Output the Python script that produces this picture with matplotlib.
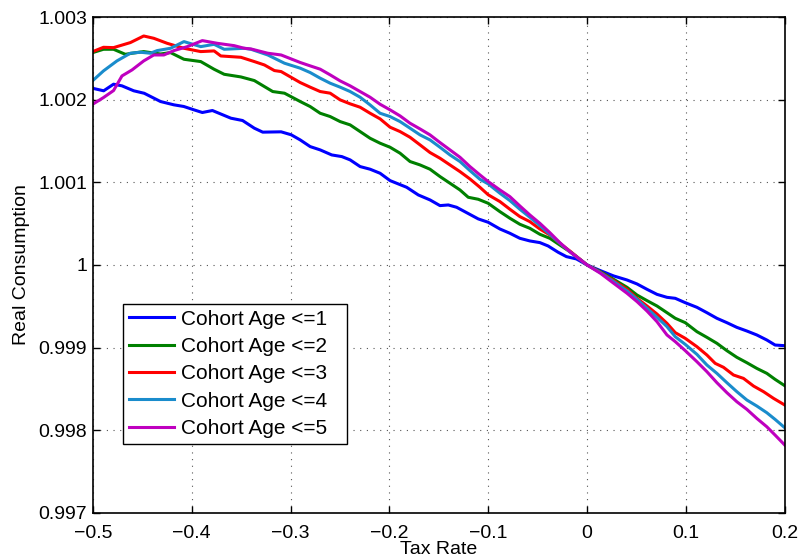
import matplotlib
matplotlib.use("Agg")
import matplotlib.pyplot as plt
from matplotlib.ticker import FixedLocator

plt.rcParams['font.family'] = ['Liberation Sans', 'DejaVu Sans']

labels = ["Cohort Age <=1", "Cohort Age <=2", "Cohort Age <=3", "Cohort Age <=4", "Cohort Age <=5"]
colors = ["#0000ff", "#008000", "#ff0000", "#1a8ccc", "#bf00bf"]

x1 = [-0.5, -0.489, -0.479, -0.4705, -0.4586, -0.448, -0.4315, -0.418, -0.408, -0.3976, -0.3892, -0.379,
      -0.3603, -0.3485, -0.3366, -0.3281, -0.3095, -0.2993,
      -0.2902, -0.2801, -0.27, -0.2583, -0.2481, -0.2397, -0.2296, -0.2195, -0.2094, -0.1993, -0.1825,
      -0.1707, -0.1589, -0.1488, -0.1404, -0.132, -0.1219, -0.1101, -0.1, -0.0882, -0.0781, -0.068,
      -0.0579, -0.0478, -0.0394, -0.0293, -0.0209, -0.0108, 0.0,
      0.0135, 0.0269, 0.0404, 0.0505, 0.0606, 0.0707, 0.0808, 0.0892, 0.0993, 0.1111, 0.1212, 0.1313,
      0.1414, 0.1515, 0.1616, 0.1717, 0.1818, 0.1902, 0.2]
y1 = [1.00214, 1.00211, 1.00219, 1.00217, 1.00211, 1.00208, 1.00198, 1.00194, 1.00192, 1.001879, 1.001847, 1.001871,
      1.001778, 1.00175, 1.001657, 1.001609, 1.001613, 1.001577,
      1.001515, 1.001434, 1.001394, 1.001333, 1.001313, 1.001273, 1.001192, 1.00116, 1.001111, 1.001022, 1.000941,
      1.000848, 1.000788, 1.000719, 1.000727, 1.000699, 1.000634, 1.000558, 1.000517, 1.000436, 1.000384, 1.000323,
      1.000291, 1.000271, 1.00023, 1.000154, 1.000101, 1.000073, 1.0,
      0.999931, 0.999867, 0.999818, 0.99977, 0.999705, 0.999644, 0.999608, 0.999596, 0.999543, 0.999487, 0.999422, 0.999354,
      0.999301, 0.999244, 0.9992, 0.999152, 0.999091, 0.99903, 0.999022]

x2 = [-0.5, -0.4892, -0.479, -0.4671, -0.4603, -0.4485, -0.4315, -0.4214, -0.4078, -0.3908, -0.3773, -0.3671,
      -0.3502, -0.3366, -0.318, -0.3061,
      -0.2902, -0.2801, -0.27, -0.2599, -0.2498, -0.2397, -0.2296, -0.2195, -0.2094, -0.1993, -0.1892, -0.1791,
      -0.169, -0.1589, -0.1488, -0.1387, -0.1286, -0.1202, -0.1101, -0.1, -0.0882, -0.0781, -0.068, -0.0579,
      -0.0478, -0.0377, -0.0276, -0.0175, 0.0,
      0.0135, 0.0269, 0.0404, 0.0505, 0.0606, 0.0707, 0.0808, 0.0892, 0.0993, 0.1111, 0.1212, 0.1313,
      0.1414, 0.1515, 0.1616, 0.1717, 0.1818, 0.1902, 0.2]
y2 = [1.002573, 1.002613, 1.002613, 1.002552, 1.002565, 1.002585, 1.002556, 1.002573, 1.002492, 1.002464, 1.002371, 1.00231,
      1.002278, 1.002234, 1.002101, 1.002081,
      1.00198, 1.001919, 1.001838, 1.001798, 1.001737, 1.001697, 1.001616, 1.001535, 1.001475, 1.001426, 1.001354, 1.001253,
      1.001212, 1.00116, 1.001071, 1.00099, 1.000909, 1.00082, 1.000796, 1.000747, 1.000646, 1.000566, 1.000493, 1.000444,
      1.000372, 1.000323, 1.000242, 1.000162, 1.0,
      0.999919, 0.999826, 0.999729, 0.999636, 0.999568, 0.999503, 0.999422, 0.999354, 0.999301, 0.999192, 0.999123, 0.999051,
      0.998962, 0.998881, 0.998816, 0.998747, 0.998687, 0.998614, 0.998537]

x3 = [-0.5, -0.4892, -0.479, -0.462, -0.4485, -0.4383, -0.4247, -0.4078, -0.3908, -0.3773, -0.3705, -0.3502,
      -0.3366, -0.3264, -0.3163, -0.3095,
      -0.2902, -0.2801, -0.27, -0.2599, -0.2498, -0.2397, -0.2296, -0.2195, -0.2094, -0.1993, -0.1892, -0.1791,
      -0.169, -0.1589, -0.1488, -0.1387, -0.1286, -0.1185, -0.1084, -0.1, -0.0882, -0.0781, -0.068, -0.0579,
      -0.0478, -0.0377, -0.0276, -0.0175, 0.0,
      0.0135, 0.0269, 0.0404, 0.0505, 0.0606, 0.0707, 0.0808, 0.0892, 0.0993, 0.1111, 0.1212, 0.1296,
      0.138, 0.1481, 0.1582, 0.1684, 0.1785, 0.1886, 0.2]
y3 = [1.002585, 1.002637, 1.002633, 1.002694, 1.002774, 1.002746, 1.002685, 1.002625, 1.002585, 1.002593, 1.002532, 1.002516,
      1.002464, 1.002423, 1.002355, 1.002343,
      1.00221, 1.002154, 1.002101, 1.002081, 1.002, 1.001952, 1.001911, 1.001838, 1.00177, 1.001669, 1.001616, 1.001547,
      1.001455, 1.001362, 1.001293, 1.001212, 1.001131, 1.001042, 1.000941, 1.00085, 1.000768, 1.000675, 1.000586, 1.000525,
      1.000436, 1.000364, 1.000263, 1.00017, 1.0,
      0.999911, 0.99981, 0.999705, 0.999596, 0.999503, 0.999406, 0.999293, 0.99918, 0.999111, 0.99901, 0.998909, 0.998808,
      0.99876, 0.998667, 0.998626, 0.998533, 0.998465, 0.998384, 0.998303]

x4 = [-0.5, -0.4892, -0.4756, -0.462, -0.4519, -0.4417, -0.4349, -0.4214, -0.4078, -0.3908, -0.3773, -0.3671,
      -0.3468, -0.34, -0.323, -0.3061,
      -0.2902, -0.2801, -0.27, -0.2599, -0.2498, -0.2397, -0.2296, -0.2195, -0.2094, -0.1993, -0.1892, -0.1791,
      -0.169, -0.1589, -0.1488, -0.1387, -0.1286, -0.1185, -0.1084, -0.1, -0.0882, -0.0781, -0.068, -0.0579,
      -0.0478, -0.0377, -0.0276, -0.0175, 0.0,
      0.0135, 0.0269, 0.0404, 0.0505, 0.0606, 0.0707, 0.0808, 0.0892, 0.0993, 0.1111, 0.1212, 0.1313,
      0.1414, 0.1515, 0.1616, 0.1717, 0.1818, 0.1902, 0.2]
y4 = [1.002234, 1.002351, 1.002472, 1.002565, 1.002577, 1.002565, 1.002597, 1.002625, 1.002706, 1.002645, 1.002673, 1.002613,
      1.002625, 1.002613, 1.002544, 1.002444,
      1.002384, 1.002331, 1.002263, 1.002202, 1.002154, 1.002101, 1.002032, 1.001939, 1.001838, 1.001798, 1.001737, 1.001657,
      1.001576, 1.001515, 1.001426, 1.001333, 1.001253, 1.001143, 1.001038, 1.000982, 1.000869, 1.00078, 1.000675, 1.000578,
      1.000477, 1.000372, 1.000263, 1.000162, 1.0,
      0.999907, 0.999798, 0.999685, 0.999584, 0.999475, 0.999366, 0.999253, 0.999131, 0.999038, 0.998917, 0.998788, 0.998687,
      0.998574, 0.998465, 0.998364, 0.998291, 0.99821, 0.998129, 0.998028]

x5 = [-0.5, -0.4892, -0.479, -0.4705, -0.4603, -0.4485, -0.4383, -0.4281, -0.418, -0.4044, -0.3892, -0.3739,
      -0.357, -0.3468, -0.34, -0.323, -0.3095,
      -0.2902, -0.2801, -0.27, -0.2599, -0.2498, -0.2397, -0.2296, -0.2195, -0.2094, -0.1993, -0.1892, -0.1791,
      -0.169, -0.1589, -0.1488, -0.1387, -0.1286, -0.1185, -0.1084, -0.1, -0.0882, -0.0781, -0.068, -0.0579,
      -0.0478, -0.0377, -0.0276, -0.0175, 0.0,
      0.0135, 0.0269, 0.0404, 0.0505, 0.0606, 0.0707, 0.0808, 0.0892, 0.0993, 0.1111, 0.1212, 0.1313,
      0.1414, 0.1515, 0.1616, 0.1717, 0.1818, 0.1902, 0.2]
y5 = [1.001948, 1.002028, 1.002113, 1.00229, 1.002363, 1.002472, 1.002544, 1.002544, 1.002597, 1.002645, 1.002718, 1.002685,
      1.002657, 1.002625, 1.002617, 1.002565, 1.002544,
      1.002453, 1.002412, 1.002372, 1.002303, 1.00223, 1.00217, 1.002101, 1.002032, 1.001947, 1.001879, 1.001806, 1.001717,
      1.001648, 1.001576, 1.001483, 1.001394, 1.001305, 1.001192, 1.001091, 1.00101, 1.000909, 1.000828, 1.000715, 1.000606,
      1.000505, 1.000392, 1.000271, 1.000162, 1.0,
      0.999899, 0.999778, 0.999657, 0.999556, 0.999442, 0.999313, 0.999152, 0.999071, 0.998962, 0.998828, 0.998707, 0.998574,
      0.998453, 0.998343, 0.998251, 0.998141, 0.99804, 0.997939, 0.997818]

xticks = [-0.5, -0.4, -0.3, -0.2, -0.1, 0, 0.1, 0.2]
xticklabels = ["\u22120.5", "\u22120.4", "\u22120.3", "\u22120.2", "\u22120.1", "0", "0.1", "0.2"]
yticks = [0.997, 0.998, 0.999, 1.0, 1.001, 1.002, 1.003]
yticklabels = ["0.997", "0.998", "0.999", "1", "1.001", "1.002", "1.003"]

fig = plt.figure(figsize=(8.0, 5.59), dpi=100)
ax = fig.add_axes([0.116, 0.083, 0.865, 0.886])

series = [(x1, y1), (x2, y2), (x3, y3), (x4, y4), (x5, y5)]
for (xs, ys), c, lab in zip(series, colors, labels):
    ax.plot(xs, ys, color=c, lw=2.2, label=lab)

ax.set_xlim(-0.5, 0.2)
ax.set_ylim(0.997, 1.003)
ax.xaxis.set_major_locator(FixedLocator(xticks))
ax.yaxis.set_major_locator(FixedLocator(yticks))
ax.set_xticklabels(xticklabels)
ax.set_yticklabels(yticklabels)
ax.tick_params(direction='in', length=5, width=1, top=True, right=True, labelsize=14)
ax.tick_params(axis='x', pad=9)
ax.tick_params(axis='y', pad=4)
ax.grid(True, linestyle=(0, (1, 5)), color='#555555', linewidth=0.8)
for s in ax.spines.values():
    s.set_linewidth(1.2)

ax.set_xlabel("Tax Rate", fontsize=14, labelpad=-1)
ax.set_ylabel("Real Consumption", fontsize=14, labelpad=6)

leg_w = 0.3237
leg_h = 0.2826
leg_top = 0.4213
leg = ax.legend(loc='upper left', bbox_to_anchor=(0.0434, leg_top - leg_h, leg_w, leg_h),
                mode='expand', fontsize=15,
                frameon=True, fancybox=False, edgecolor='black', framealpha=1,
                handlelength=2.2, handletextpad=0.3, borderpad=0.28, labelspacing=0.4,
                borderaxespad=0)
leg.get_frame().set_linewidth(1.0)

fig.savefig("out.png", dpi=100)
